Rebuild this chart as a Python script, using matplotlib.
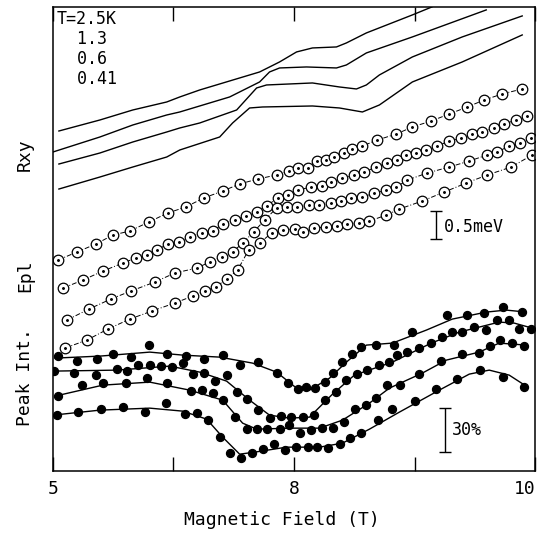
import matplotlib
matplotlib.use("Agg")
import matplotlib.pyplot as plt

plt.rcParams['font.family'] = ['DejaVu Sans Mono', 'DejaVu Sans']

# Rxy traces (field in T, offset in arb. units), T = 2.5K, 1.3, 0.6, 0.41
rxy1_x = [5.062, 5.487, 5.828, 6.180, 6.315, 6.522, 7.143, 7.350, 7.526, 7.691, 7.940, 8.043, 8.250, 8.727, 8.930]
rxy1_y = [341, 352, 362, 370, 375, 382, 400, 410, 420, 424, 425, 429, 439, 457, 465]
rxy2_x = [5.000, 5.487, 5.828, 6.180, 6.315, 6.832, 7.143, 7.246, 7.350, 7.629, 7.940, 8.043, 8.250, 8.727, 9.493]
rxy2_y = [320, 335, 347, 357, 360, 375, 390, 400, 404, 405, 404, 407, 419, 435, 462]
rxy3_x = [5.062, 5.487, 5.828, 6.180, 6.315, 6.522, 6.905, 7.112, 7.215, 7.691, 7.971, 8.147, 8.250, 8.385, 8.727, 9.244, 9.866]
rxy3_y = [308, 319, 330, 340, 344, 349, 362, 384, 387, 389, 385, 383, 387, 397, 415, 435, 456]
rxy4_x = [5.062, 5.487, 5.828, 6.180, 6.315, 6.729, 6.863, 7.039, 7.174, 7.691, 7.971, 8.209, 8.385, 8.727, 9.244, 9.866]
rxy4_y = [283, 295, 305, 315, 322, 335, 349, 364, 365, 366, 364, 360, 367, 390, 410, 437]

# PL peak energy (open circles)
epl1_x = [5.052, 5.248, 5.445, 5.621, 5.797, 5.994, 6.190, 6.377, 6.563, 6.760, 6.936, 7.122, 7.319, 7.453, 7.536,
          7.640, 7.733, 7.836, 7.919, 8.023, 8.106, 8.209, 8.364, 8.561, 8.727, 8.923, 9.110, 9.296, 9.472, 9.658, 9.866]
epl1_y = [212, 220, 228, 237, 241, 250, 259, 265, 274, 281, 288, 293, 297, 301, 304,
          304, 311, 312, 315, 319, 323, 326, 332, 338, 345, 351, 358, 365, 372, 378, 383]
epl2_x = [5.104, 5.311, 5.518, 5.725, 5.859, 5.973, 6.077, 6.190, 6.304, 6.418, 6.542, 6.656, 6.760, 6.884, 6.998,
          7.112, 7.215, 7.329, 7.433, 7.536, 7.681, 7.785, 7.888, 8.002, 8.126, 8.230, 8.354, 8.468, 8.571, 8.665,
          8.768, 8.872, 8.986, 9.110, 9.234, 9.348, 9.451, 9.576, 9.679, 9.803, 9.917]
epl2_y = [184, 192, 201, 209, 214, 217, 222, 228, 230, 235, 239, 241, 248, 252, 256,
          260, 266, 274, 277, 282, 285, 286, 290, 294, 297, 300, 305, 309, 312, 317,
          319, 322, 326, 331, 334, 338, 340, 344, 348, 352, 356]
epl3_x = [5.145, 5.373, 5.600, 5.807, 6.056, 6.263, 6.491, 6.625, 6.749, 6.863, 6.967, 7.081, 7.195, 7.319, 7.422,
          7.526, 7.660, 7.764, 7.888, 7.992, 8.095, 8.209, 8.333, 8.458, 8.561, 8.675, 8.882, 9.110, 9.317, 9.503,
          9.607, 9.731, 9.845, 9.959]
epl3_y = [152, 163, 173, 181, 190, 199, 204, 210, 215, 220, 229, 240, 252, 264, 265,
          265, 267, 267, 269, 271, 274, 275, 279, 282, 285, 292, 299, 305, 311, 317,
          320, 326, 329, 334]
epl4_x = [5.124, 5.352, 5.569, 5.797, 6.025, 6.263, 6.449, 6.573, 6.687, 6.801, 6.915, 7.029, 7.143, 7.267, 7.381,
          7.505, 7.588, 7.712, 7.836, 7.950, 8.054, 8.178, 8.282, 8.458, 8.592, 8.830, 9.058, 9.286, 9.503, 9.752, 9.969]
epl4_y = [124, 132, 143, 153, 161, 169, 176, 181, 185, 193, 202, 222, 229, 239, 242,
          243, 240, 244, 245, 246, 248, 249, 251, 257, 263, 271, 280, 289, 297, 305, 317]

# peak intensity (filled dots) and the smooth guide lines through them
pk1_x = [5.052, 5.248, 5.455, 5.621, 5.807, 5.994, 6.180, 6.377, 6.563, 6.760, 6.936, 7.122, 7.319, 7.433, 7.536,
         7.629, 7.722, 7.816, 7.909, 8.002, 8.106, 8.199, 8.354, 8.540, 8.727, 9.089, 9.296, 9.472, 9.669, 9.866]
pk1_y = [116, 111, 113, 118, 115, 127, 118, 116, 113, 117, 107, 110, 99, 89, 83,
         85, 84, 90, 99, 110, 118, 125, 127, 127, 140, 157, 157, 159, 165, 160]
fit1_x = [5.021, 5.487, 6.004, 6.346, 6.729, 7.070, 7.319, 7.526, 7.660, 7.868, 8.043, 8.250, 8.520, 8.872, 9.141, 9.493, 9.700, 9.907]
fit1_y = [114, 116, 120, 117, 115, 109, 100, 84, 82, 94, 110, 127, 129, 142, 153, 160, 162, 160]

pk2_x = [5.010, 5.217, 5.445, 5.663, 5.766, 5.880, 6.004, 6.118, 6.232, 6.346, 6.449, 6.563, 6.677, 6.801, 6.905,
         7.008, 7.122, 7.246, 7.360, 7.464, 7.588, 7.702, 7.816, 7.930, 8.043, 8.157, 8.261, 8.385, 8.489, 8.571,
         8.675, 8.799, 8.923, 9.037, 9.141, 9.244, 9.369, 9.493, 9.607, 9.731, 9.834, 9.959]
pk2_y = [101, 99, 97, 103, 101, 107, 107, 106, 105, 109, 98, 99, 91, 97, 80,
         73, 62, 54, 56, 55, 55, 57, 72, 80, 92, 98, 102, 107, 110, 117,
         120, 124, 129, 135, 140, 140, 145, 142, 152, 152, 143, 143]
fit2_x = [5.000, 5.663, 6.211, 6.522, 6.801, 7.039, 7.246, 7.453, 7.660, 7.899, 8.126, 8.520, 8.923, 9.213, 9.627, 9.783, 9.969]
fit2_y = [101, 102, 106, 100, 91, 72, 57, 54, 55, 78, 97, 110, 129, 140, 150, 149, 144]

pk3_x = [5.052, 5.300, 5.518, 5.756, 5.973, 6.180, 6.429, 6.542, 6.656, 6.760, 6.884, 7.008, 7.112, 7.215, 7.350,
         7.453, 7.557, 7.681, 7.795, 7.899, 8.023, 8.137, 8.250, 8.354, 8.468, 8.602, 8.799, 9.027, 9.244, 9.420,
         9.534, 9.638, 9.762, 9.886]
pk3_y = [76, 87, 89, 89, 94, 89, 81, 82, 79, 72, 55, 43, 43, 43, 43,
         47, 39, 42, 44, 44, 50, 63, 67, 74, 87, 87, 98, 111, 118, 119,
         126, 132, 129, 126]
fit3_x = [5.021, 5.518, 6.004, 6.418, 6.760, 6.967, 7.112, 7.453, 7.764, 8.002, 8.282, 8.489, 8.830, 9.079, 9.420, 9.627, 9.907]
fit3_y = [76, 87, 90, 82, 72, 49, 43, 44, 44, 52, 69, 84, 99, 112, 120, 129, 127]

pk4_x = [5.041, 5.259, 5.497, 5.725, 5.952, 6.170, 6.366, 6.491, 6.605, 6.729, 6.832, 6.946, 7.060, 7.174, 7.288,
         7.402, 7.516, 7.640, 7.743, 7.857, 7.981, 8.085, 8.199, 8.375, 8.520, 8.758, 8.975, 9.192, 9.431, 9.669, 9.886]
pk4_y = [57, 60, 63, 65, 60, 69, 58, 59, 52, 35, 19, 14, 19, 23, 28,
         22, 25, 25, 25, 24, 28, 34, 39, 52, 63, 71, 83, 93, 102, 95, 85]
fit4_x = [5.000, 5.487, 6.004, 6.346, 6.594, 6.760, 6.936, 7.091, 7.422, 7.764, 8.002, 8.282, 8.592, 9.006, 9.317, 9.524, 9.731, 9.907]
fit4_y = [57, 62, 64, 61, 53, 35, 18, 20, 25, 25, 29, 43, 60, 82, 98, 102, 97, 86]

tick_pos = [5, 6.25, 7.5, 8.75, 10]
tick_lab = ['5', '', '8', '', '10']

fig = plt.figure(figsize=(5.4, 5.33), dpi=100)
ax = fig.add_axes([0.098, 0.116, 0.893, 0.871])

for xs, ys in [(rxy1_x, rxy1_y), (rxy2_x, rxy2_y), (rxy3_x, rxy3_y), (rxy4_x, rxy4_y)]:
    ax.plot(xs, ys, color='k', lw=1.0)

for xs, ys in [(epl1_x, epl1_y), (epl2_x, epl2_y), (epl3_x, epl3_y), (epl4_x, epl4_y)]:
    ax.plot(xs, ys, color='k', lw=0.7, ls=(0, (5, 2, 1, 2)),
            marker='o', ms=7.6, mfc='white', mec='k', mew=0.9)
    ax.plot(xs, ys, 'k.', ms=2.2)

for xs, ys, fx, fy in [(pk1_x, pk1_y, fit1_x, fit1_y), (pk2_x, pk2_y, fit2_x, fit2_y),
                       (pk3_x, pk3_y, fit3_x, fit3_y), (pk4_x, pk4_y, fit4_x, fit4_y)]:
    ax.plot(fx, fy, color='k', lw=1.0)
    ax.plot(xs, ys, 'o', color='k', ms=5.7)

# scale bars
ax.errorbar([8.975], [247], yerr=14, color='k', lw=1.0, capsize=4, capthick=1.0)
ax.text(9.058, 245, '0.5meV', fontsize=12, va='center', ha='left')
ax.errorbar([9.068], [42], yerr=22, color='k', lw=1.0, capsize=4, capthick=1.0)
ax.text(9.141, 42, '30%', fontsize=12, va='center', ha='left')

ax.text(0.008, 0.993, 'T=2.5K\n  1.3\n  0.6\n  0.41', transform=ax.transAxes,
        fontsize=12, va='top', ha='left', linespacing=1.15)

ax.set_xlim(5, 10)
ax.set_ylim(1, 465)
ax.set_xticks(tick_pos)
ax.set_xticklabels(tick_lab, fontsize=13)
ax.get_xticklabels()[-1].set_ha('right')
ax.set_yticks([])
ax.tick_params(axis='x', direction='in', length=10, width=1.0, top=True, pad=6)
for s in ax.spines.values():
    s.set_linewidth(1.1)

fig.text(0.046, 0.709, 'Rxy', rotation=90, fontsize=13, ha='center', va='center')
fig.text(0.046, 0.482, 'Epl', rotation=90, fontsize=13, ha='center', va='center')
fig.text(0.046, 0.293, 'Peak Int.', rotation=90, fontsize=13, ha='center', va='center')
fig.text(0.522, 0.024, 'Magnetic Field (T)', fontsize=13, ha='center', va='center')

fig.savefig('out.png', dpi=100)
